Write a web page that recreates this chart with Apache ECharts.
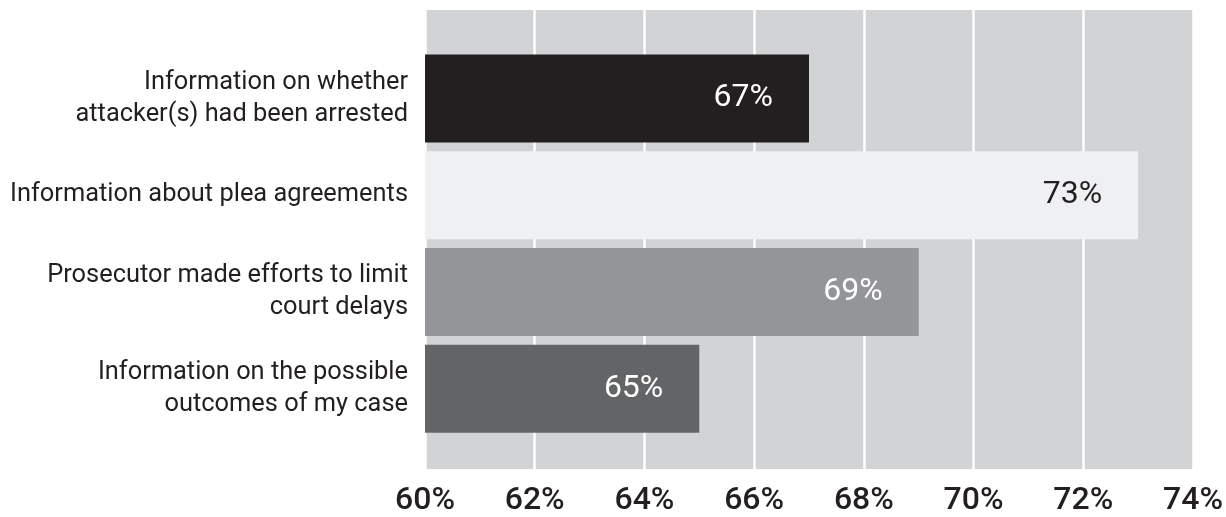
<!DOCTYPE html>
<html>
<head>
<meta charset="utf-8">
<script src="https://cdn.jsdelivr.net/npm/echarts@6/dist/echarts.min.js"></script>
<style>html,body{margin:0;padding:0;background:#fff;}#c{width:1226px;height:517px;}</style>
</head>
<body>
<div id="c"></div>
<script>
const categories = [
  "Information on whether\nattacker(s) had been arrested",
  "Information about plea agreements",
  "Prosecutor made efforts to limit\ncourt delays",
  "Information on the possible\noutcomes of my case"
];
const values = [67, 73, 69, 65];
const barColors = ["#231f20", "#eff0f2", "#939598", "#636466"];
const labelColors = ["#ffffff", "#231f20", "#ffffff", "#ffffff"];
const xMin = 60, xMax = 74, xStep = 2;

const chart = echarts.init(document.getElementById('c'));
chart.setOption({
  animation: false,
  grid: [
    {left: 425, width: 768, top: 10, height: 463, show: true, backgroundColor: '#d1d3d4', borderWidth: 0, containLabel: false},
    {left: 425, width: 768, top: 50, height: 387, containLabel: false}
  ],
  xAxis: [
    {gridIndex: 0, type: 'value', min: xMin, max: xMax, interval: xStep,
     axisLine: {show: false}, axisTick: {show: false},
     splitLine: {show: true, lineStyle: {color: '#ffffff', width: 2.5}},
     axisLabel: {formatter: '{value}%', color: '#231f20', fontFamily: 'Roboto', fontWeight: 500, fontSize: 32, margin: 16}},
    {gridIndex: 1, type: 'value', min: xMin, max: xMax, interval: xStep, show: false, splitLine: {show: false}}
  ],
  yAxis: [
    {gridIndex: 0, type: 'category', data: [''], show: false},
    {gridIndex: 1, type: 'category', inverse: true,
     data: categories.map((c, i) => i === 0 ? {value: c, textStyle: {padding: [0, 0, 12, 0]}} : c),
     axisLine: {show: false}, axisTick: {show: false}, splitLine: {show: false},
     axisLabel: {color: '#231f20', fontFamily: 'Roboto', fontSize: 25.4, lineHeight: 32, margin: 17, align: 'right'}}
  ],
  series: [{
    type: 'bar', xAxisIndex: 1, yAxisIndex: 1, barWidth: 88,
    data: values.map((v, i) => ({value: v, itemStyle: {color: barColors[i]},
      label: {color: labelColors[i]}})),
    label: {show: true, position: 'insideRight', distance: 36, formatter: '{c}%',
      fontFamily: 'Roboto', fontSize: 32}
  }]
});
</script>
</body>
</html>
